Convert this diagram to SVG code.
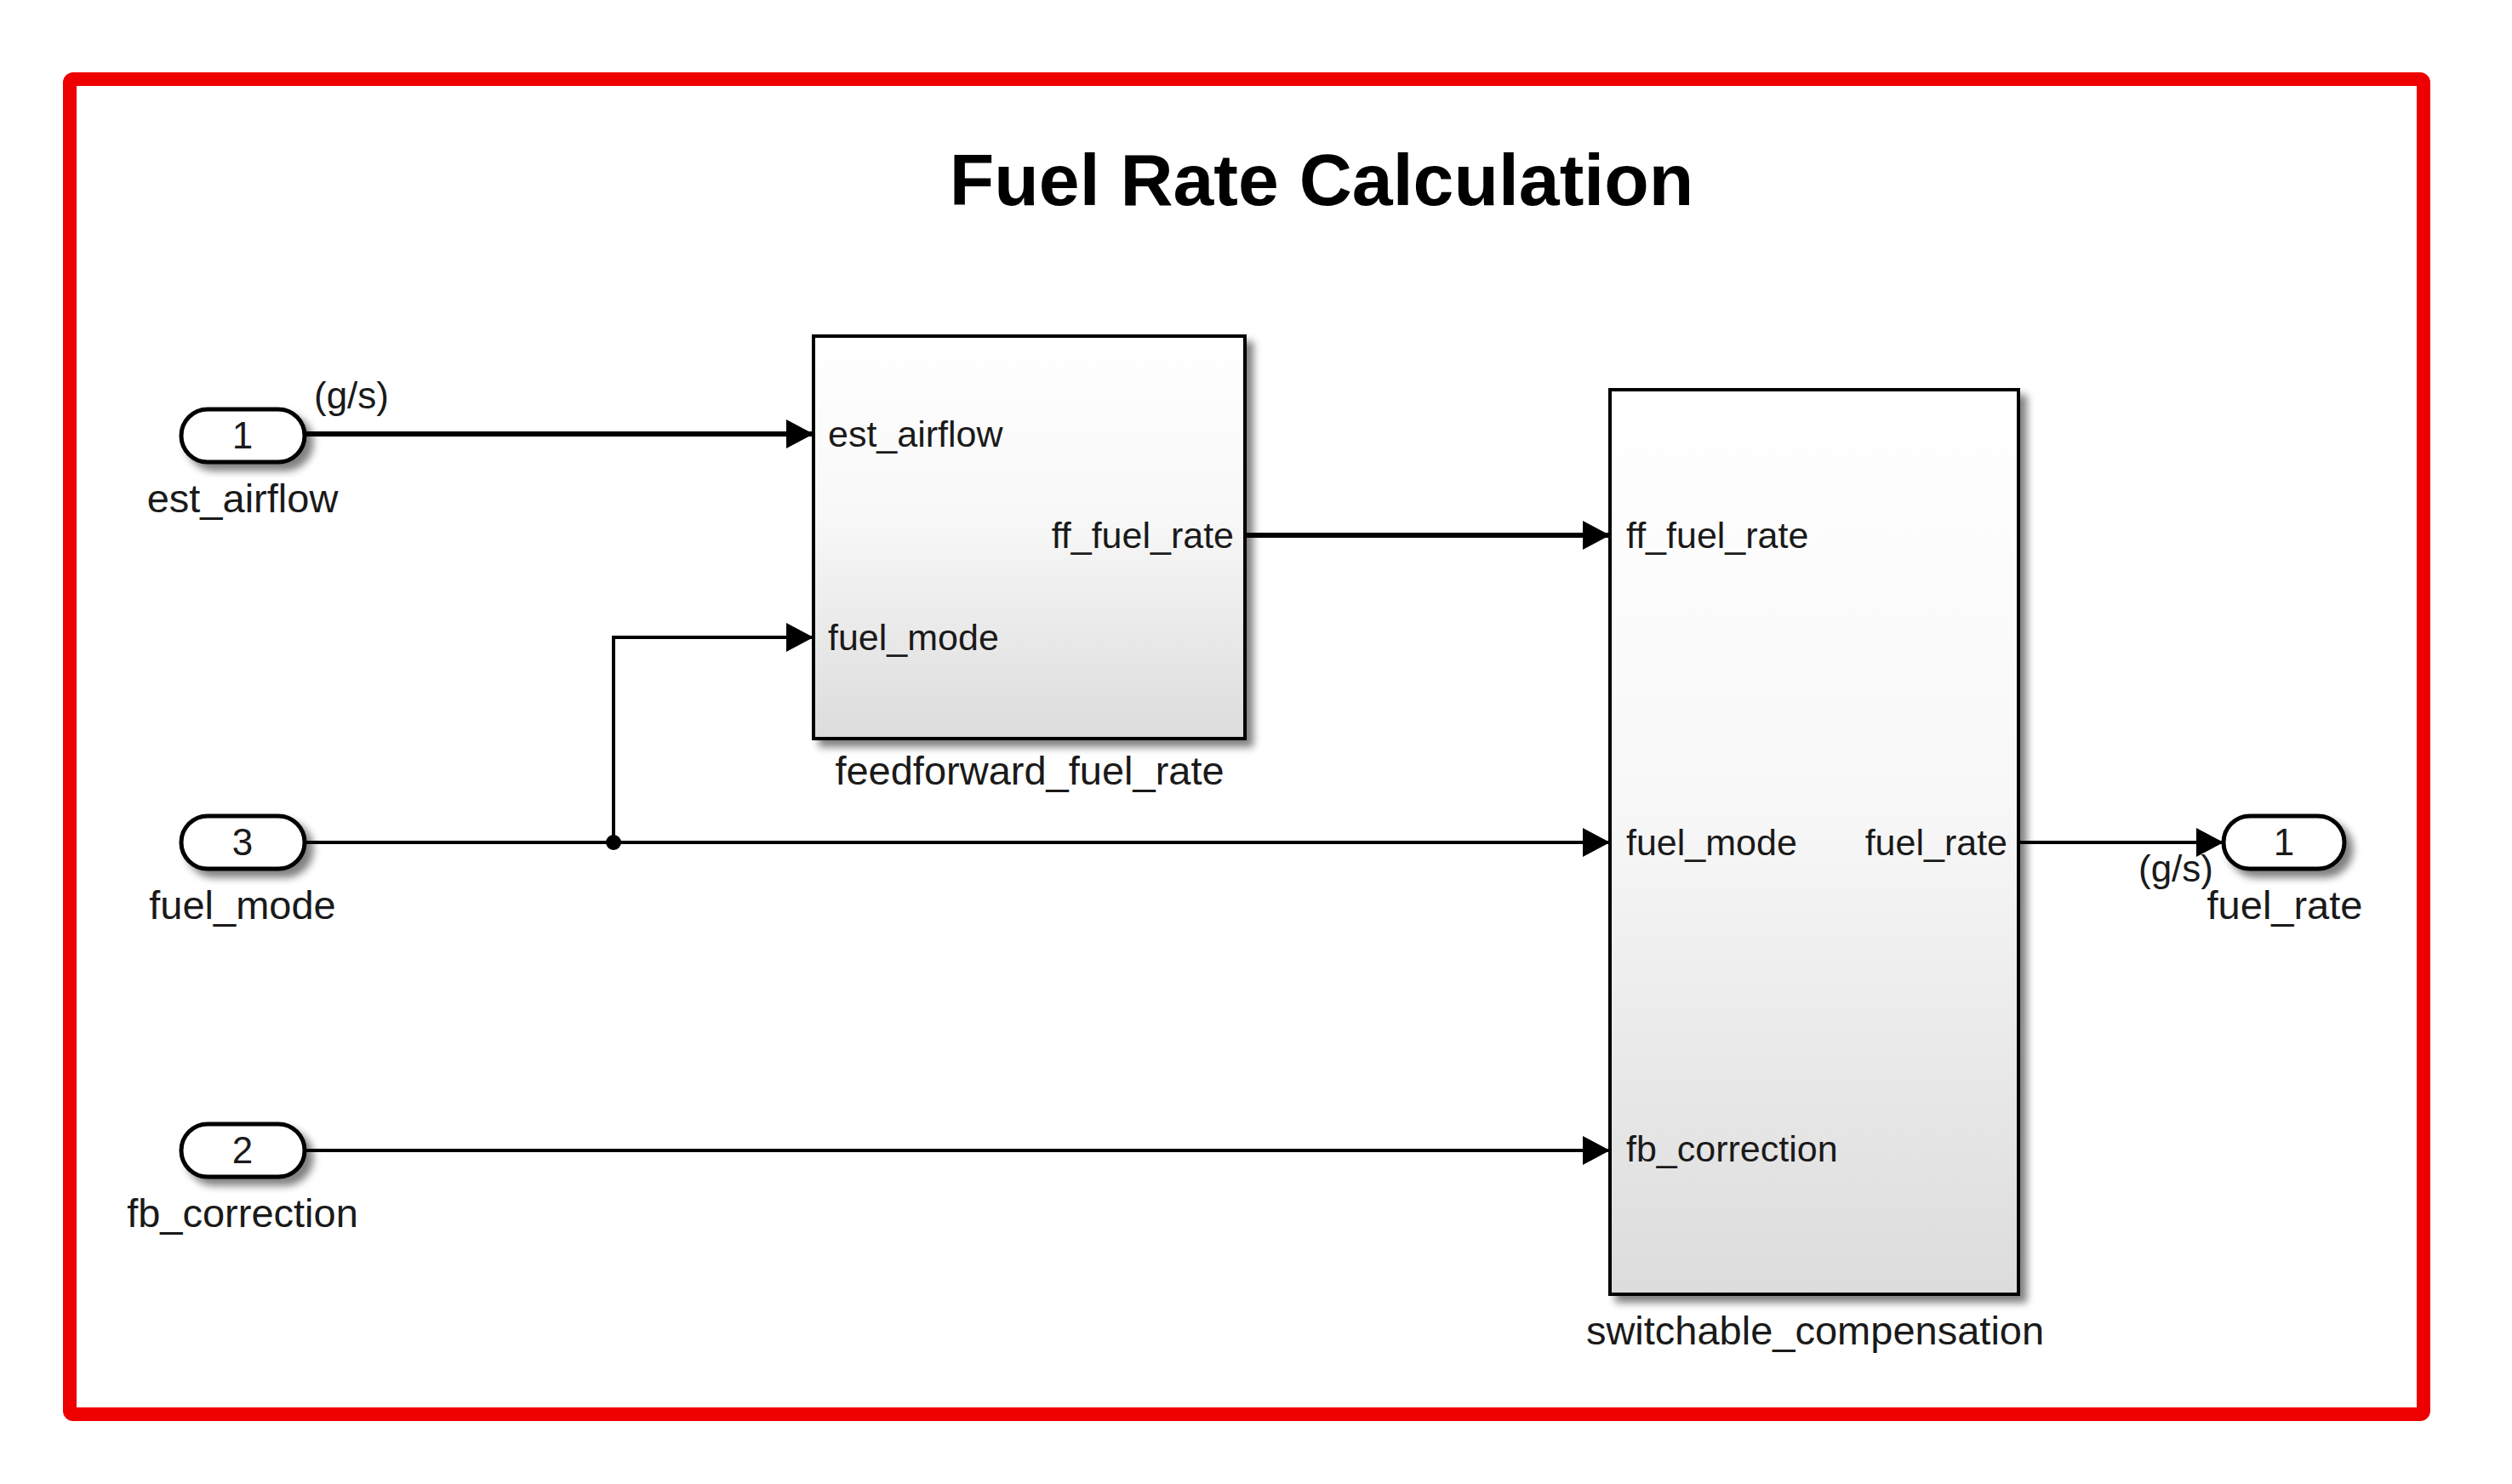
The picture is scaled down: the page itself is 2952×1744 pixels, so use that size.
<svg xmlns="http://www.w3.org/2000/svg" width="2952" height="1744" viewBox="0 0 2952 1744">
<defs>
<style>
text{font-family:"Liberation Sans",Arial,sans-serif;fill:#1a1a1a}
.title{font-size:86px;font-weight:bold;text-anchor:middle;fill:#000}
.name{font-size:47px;text-anchor:middle}
.port{font-size:43px}
.num{font-size:44px;text-anchor:middle}
.unit{font-size:44px}
.blk{stroke:#000;stroke-width:4;fill:url(#g)}
.pill{stroke:#000;stroke-width:5;fill:#fff}
.w{fill:none;stroke:#000;stroke-width:4}
.wt{fill:none;stroke:#000;stroke-width:6}
</style>
<linearGradient id="g" x1="0" y1="0" x2="0" y2="1">
<stop offset="0" stop-color="#ffffff"/>
<stop offset="0.45" stop-color="#f8f8f8"/>
<stop offset="1" stop-color="#dcdcdc"/>
</linearGradient>
<filter id="sh" x="-20%" y="-20%" width="150%" height="150%">
<feGaussianBlur in="SourceAlpha" stdDeviation="5"/>
<feOffset dx="8" dy="8" result="b"/>
<feComponentTransfer><feFuncA type="linear" slope="0.5"/></feComponentTransfer>
<feMerge><feMergeNode/><feMergeNode in="SourceGraphic"/></feMerge>
</filter>
<marker id="ar" markerWidth="34" markerHeight="36" refX="32" refY="17" orient="auto" markerUnits="userSpaceOnUse">
<path d="M0,0 L32,17 L0,34 Z" fill="#000"/>
</marker>
</defs>
<rect width="2952" height="1744" fill="#fff"/>
<rect x="82" y="93" width="2766" height="1569" fill="none" stroke="#ee0000" stroke-width="16" rx="4"/>
<text class="title" x="1553" y="241">Fuel Rate Calculation</text>

<g id="in_est_airflow">
<rect class="pill" x="213" y="481" width="145" height="62" rx="31" filter="url(#sh)"/>
<text class="num" x="285" y="527">1</text>
<text class="name" x="285" y="602">est_airflow</text>
</g>
<g id="in_fuel_mode">
<rect class="pill" x="213" y="959" width="145" height="62" rx="31" filter="url(#sh)"/>
<text class="num" x="285" y="1005">3</text>
<text class="name" x="285" y="1080">fuel_mode</text>
</g>
<g id="in_fb_correction">
<rect class="pill" x="213" y="1321" width="145" height="62" rx="31" filter="url(#sh)"/>
<text class="num" x="285" y="1367">2</text>
<text class="name" x="285" y="1442">fb_correction</text>
</g>

<g id="feedforward_fuel_rate">
<rect class="blk" x="956" y="395" width="507" height="473" filter="url(#sh)"/>
<text class="port" x="973" y="525">est_airflow</text>
<text class="port" x="973" y="764">fuel_mode</text>
<text class="port" x="1450" y="644" text-anchor="end">ff_fuel_rate</text>
<text class="name" x="1210" y="922">feedforward_fuel_rate</text>
</g>

<g id="switchable_compensation">
<rect class="blk" x="1892" y="458" width="480" height="1063" filter="url(#sh)"/>
<text class="port" x="1911" y="644">ff_fuel_rate</text>
<text class="port" x="1911" y="1005">fuel_mode</text>
<text class="port" x="1911" y="1365">fb_correction</text>
<text class="port" x="2359" y="1005" text-anchor="end">fuel_rate</text>
<text class="name" x="2133" y="1580">switchable_compensation</text>
</g>

<g id="out_fuel_rate">
<rect class="pill" x="2613" y="959" width="142" height="62" rx="31" filter="url(#sh)"/>
<text class="num" x="2684" y="1005">1</text>
<text class="name" x="2685" y="1080">fuel_rate</text>
</g>

<g id="connectors">
<path class="wt" d="M358,510 H956" marker-end="url(#ar)"/>
<text class="unit" x="369" y="480">(g/s)</text>
<path class="wt" d="M1463,629 H1892" marker-end="url(#ar)"/>
<path class="w" d="M358,990 H1892" marker-end="url(#ar)"/>
<path class="w" d="M721,990 V749 H956" marker-end="url(#ar)"/>
<circle cx="721" cy="990" r="9" fill="#000"/>
<path class="w" d="M358,1352 H1892" marker-end="url(#ar)"/>
<path class="w" d="M2372,990 H2613" marker-end="url(#ar)"/>
<text class="unit" x="2513" y="1036">(g/s)</text>
</g>
</svg>
